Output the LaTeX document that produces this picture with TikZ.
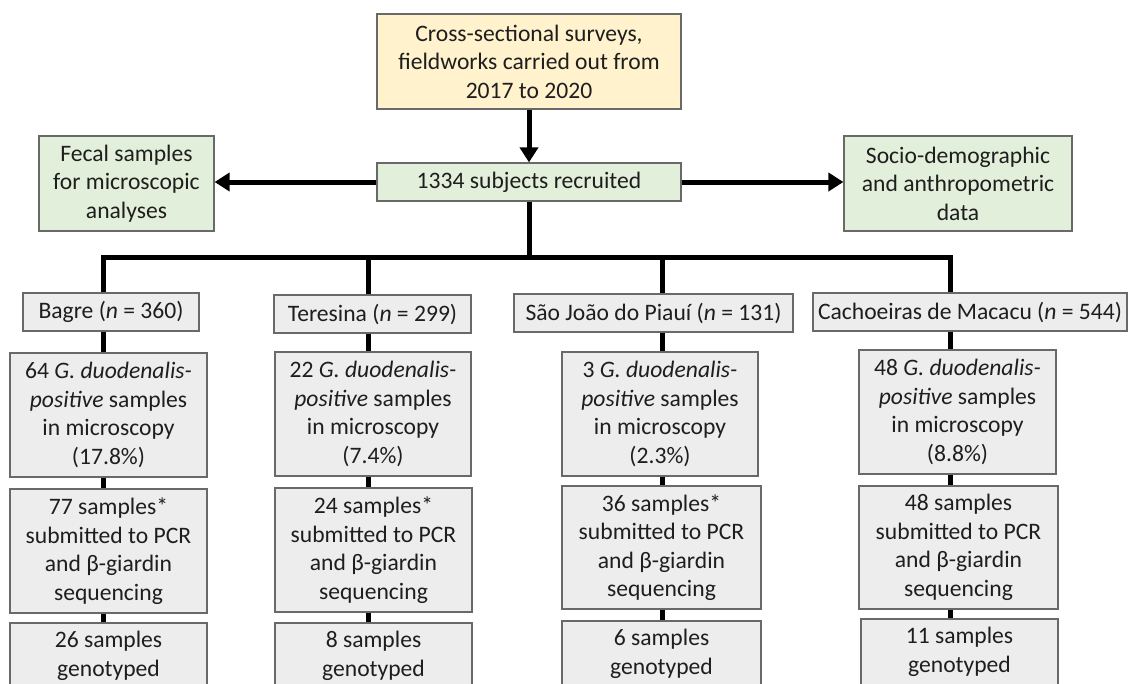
\documentclass[tikz,border=0pt]{standalone}
\usepackage{fontspec}
\setmainfont{Carlito}
\usepackage{tikz}
\usetikzlibrary{arrows.meta}
\definecolor{srcfill}{RGB}{255,242,204}
\definecolor{recfill}{RGB}{226,239,218}
\definecolor{boxfill}{RGB}{237,237,237}
\definecolor{boxline}{RGB}{105,105,105}
\definecolor{txt}{RGB}{30,30,30}

\begin{document}
\begin{tikzpicture}[x=1pt,y=-1pt,
    box/.style={draw=boxline, line width=1.2pt, fill=boxfill, text=txt, inner sep=0pt,
      align=center, font=\fontsize{23.6}{28.5}\selectfont},
    green/.style={box, fill=recfill},
    link/.style={line width=5pt},
    arr/.style={line width=5pt, -{Triangle[length=15pt,width=18pt]}}]
    \useasboundingbox (0,0) rectangle (1131,683);
    \clip (0,0) rectangle (1131,683);
    \node[box, fill=srcfill, minimum width=304pt, minimum height=95pt] (src) at (529,61.5)
        {Cross-sectional surveys,\\fieldworks carried out from\\2017 to 2020};
    \node[green, minimum width=304pt, minimum height=38pt] (rec) at (529,182) {1334 subjects recruited};
    \node[green, minimum width=175pt, minimum height=95pt] (fecal) at (126.5,183.5)
        {Fecal samples\\for microscopic\\analyses};
    \node[green, minimum width=228pt, minimum height=95pt] (socio) at (958,183.5)
        {Socio-demographic\\and anthropometric\\data};
    \node[box, minimum width=176pt, minimum height=38pt] (bagre) at (111,312) {Bagre (\textit{n} = 360)};
    \node[box, minimum width=197pt, minimum height=38pt] (teresina) at (372.5,314) {Teresina (\textit{n} = 299)};
    \node[box, minimum width=279pt, minimum height=38pt] (saojoao) at (653.5,313) {São João do Piauí (\textit{n} = 131)};
    \node[box, minimum width=314pt, minimum height=38pt] (cach) at (970,312) {Cachoeiras de Macacu (\textit{n} = 544)};
    \node[box, minimum width=197pt, minimum height=124pt] (bagrepos) at (108.5,415)
        {64 \textit{G. duodenalis-}\\\textit{positive} samples\\in microscopy\\(17.8\%)};
    \node[box, minimum width=196pt, minimum height=124pt] (teresinapos) at (373,414)
        {22 \textit{G. duodenalis-}\\\textit{positive} samples\\in microscopy\\(7.4\%)};
    \node[box, minimum width=196pt, minimum height=124pt] (saojoaopos) at (660,414)
        {3 \textit{G. duodenalis-}\\\textit{positive} samples\\in microscopy\\(2.3\%)};
    \node[box, minimum width=197pt, minimum height=124pt] (cachpos) at (957.5,412)
        {48 \textit{G. duodenalis-}\\\textit{positive} samples\\in microscopy\\(8.8\%)};
    \node[box, minimum width=197pt, minimum height=124pt] (bagrepcr) at (108.5,551)
        {77 samples*\\submitted to PCR\\and β-giardin\\sequencing};
    \node[box, minimum width=197pt, minimum height=124pt] (teresinapcr) at (373.5,550)
        {24 samples*\\submitted to PCR\\and β-giardin\\sequencing};
    \node[box, minimum width=199pt, minimum height=123pt] (saojoaopcr) at (661.5,547.5)
        {36 samples*\\submitted to PCR\\and β-giardin\\sequencing};
    \node[box, minimum width=199pt, minimum height=123pt] (cachpcr) at (958.5,547.5)
        {48 samples\\submitted to PCR\\and β-giardin\\sequencing};
    \node[box, minimum width=197pt, minimum height=66pt] (bagregen) at (108.5,656) {26 samples\\genotyped};
    \node[box, minimum width=197pt, minimum height=66pt] (teresinagen) at (373.5,656) {8 samples\\genotyped};
    \node[box, minimum width=199pt, minimum height=66pt] (saojoaogen) at (661.5,654) {6 samples\\genotyped};
    \node[box, minimum width=197pt, minimum height=66pt] (cachgen) at (959.5,652) {11 samples\\genotyped};
    \coordinate (j1) at (103,257);
    \coordinate (j2) at (368,257);
    \coordinate (j3) at (662,257);
    \coordinate (j4) at (950,257);
    \draw[arr] (src) -- (rec);
    \draw[arr] (rec.west) -- (fecal.east |- rec.west);
    \draw[arr] (rec.east) -- (socio.west |- rec.east);
    \draw[link] (rec.south) -- (rec.south |- j1);
    \draw[link, line join=miter] (j1 |- bagre.north) -- (j1) -- (j4) -- (j4 |- cach.north);
    \draw[link] (j2) -- (j2 |- teresina.north);
    \draw[link] (j3) -- (j3 |- saojoao.north);
    \draw[link] (j1 |- bagre.south) -- (j1 |- bagrepos.north);
    \draw[link] (j1 |- bagrepos.south) -- (j1 |- bagrepcr.north);
    \draw[link] (j1 |- bagrepcr.south) -- (j1 |- bagregen.north);
    \draw[link] (j2 |- teresina.south) -- (j2 |- teresinapos.north);
    \draw[link] (j2 |- teresinapos.south) -- (j2 |- teresinapcr.north);
    \draw[link] (j2 |- teresinapcr.south) -- (j2 |- teresinagen.north);
    \draw[link] (j3 |- saojoao.south) -- (j3 |- saojoaopos.north);
    \draw[link] (j3 |- saojoaopos.south) -- (j3 |- saojoaopcr.north);
    \draw[link] (j3 |- saojoaopcr.south) -- (j3 |- saojoaogen.north);
    \draw[link] (j4 |- cach.south) -- (j4 |- cachpos.north);
    \draw[link] (j4 |- cachpos.south) -- (j4 |- cachpcr.north);
    \draw[link] (j4 |- cachpcr.south) -- (j4 |- cachgen.north);
\end{tikzpicture}
\end{document}
